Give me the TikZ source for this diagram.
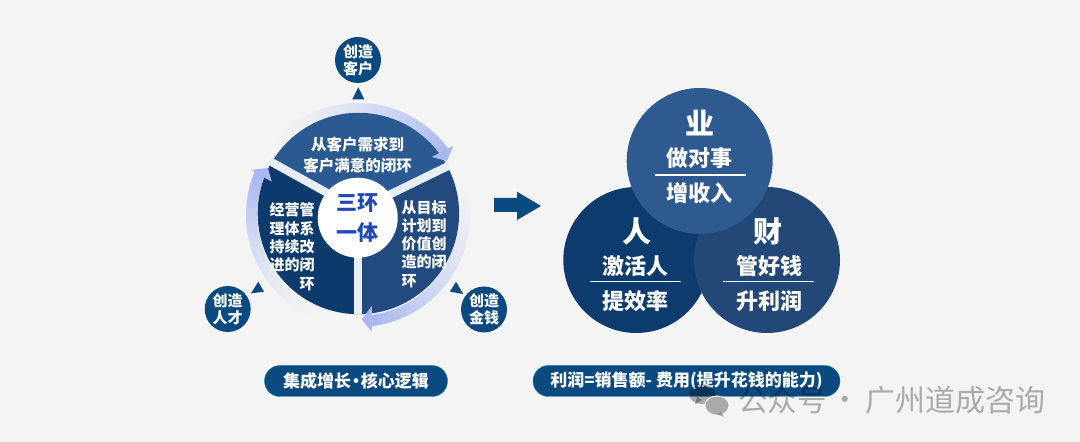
\documentclass[tikz,border=0pt]{standalone}
\usepackage{fontspec}
\setmainfont{Noto Sans CJK SC}
\definecolor{bgc}{HTML}{F4F4F4}
\definecolor{ringc}{HTML}{A9B9F0}
\definecolor{gapc}{HTML}{E9EDF5}
\definecolor{navy}{HTML}{0B4A80}
\definecolor{sectop}{HTML}{2B5A92}
\definecolor{secright}{HTML}{234A7E}
\definecolor{secleft}{HTML}{0C3A6C}
\definecolor{circtop}{HTML}{2F5A8F}
\definecolor{circleft}{HTML}{0D3B6E}
\definecolor{circright}{HTML}{234878}
\definecolor{corec}{HTML}{2047B8}
\tikzset{
  x=1pt,y=1pt,
  ftxt/.style={text=white,inner sep=0pt,align=center,font=\fontsize{#1}{#1}\selectfont\bfseries},
  pietxt/.style={text=white,inner sep=0pt,font=\fontsize{15}{18.3}\selectfont\bfseries},
  badge/.style={circle,fill=navy,minimum size=46pt,inner sep=0pt,text=white,align=center,font=\fontsize{15}{16.7}\selectfont\bfseries},
  bigc/.style={circle,minimum size=146pt,inner sep=0pt},
  pill/.style={rounded corners=15.5pt,fill=navy,draw=navy!70!cyan,line width=.4pt,minimum height=31pt,inner sep=0pt,text=white,font=\fontsize{17}{17}\selectfont\bfseries},
  rule/.style={white,line width=1.4pt},
  tri/.style={fill=navy},
  gap/.style={gapc,line width=8pt}
}
\newcommand{\ringarrow}[2]{%
  \foreach \i in {0,...,60}{%
    \pgfmathsetmacro{\p}{100*(\i/60)^1.6}
    \pgfmathsetmacro{\aa}{#1+(#2-#1)*\i/61}
    \pgfmathsetmacro{\ab}{#1+(#2-#1)*(\i+1.4)/61}
    \draw[line width=11pt,color=ringc!\p!bgc] (ringc) ++(\aa:106.5) arc[start angle=\aa,end angle=\ab,radius=106.5];
  }%
}
\begin{document}
\begin{tikzpicture}
\useasboundingbox (0,0) rectangle (1080,442);
\fill[bgc] (0,0) rectangle (1080,442);
% pie
\coordinate (pie) at (358.4,228.5);
\coordinate (O) at (358,232);
\coordinate (ringc) at (358,227);
% ring arrows
\ringarrow{145}{35}
\ringarrow{20}{-82}
\ringarrow{250}{158}
\begin{scope}
  \clip (O) -- ([shift={(26:220)}]O) -- ([shift={(151:220)}]O) -- cycle;
  \fill[sectop] (pie) circle[radius=100.7];
\end{scope}
\begin{scope}
  \clip (O) -- ([shift={(26:220)}]O) -- ([shift={(-90:220)}]O) -- cycle;
  \fill[secright] (pie) circle[radius=100.7];
\end{scope}
\begin{scope}
  \clip (O) -- ([shift={(151:220)}]O) -- ([shift={(-90:220)}]O) -- cycle;
  \fill[secleft] (pie) circle[radius=100.7];
\end{scope}
\draw[gap] (O) -- ([shift={(26:101)}]O);
\draw[gap] (O) -- ([shift={(151:101)}]O);
\draw[gap] (O) -- ([shift={(-90:104)}]O);
\fill[ringc] (453,296) -- (447,281) -- (431.7,285) -- cycle;
\fill[ringc] (372,136.3) -- (361.7,122.7) -- (371.7,110.3) -- cycle;
\fill[ringc] (251,272) -- (268,274) -- (271.7,260.3) -- cycle;
% centre
\node[circle,fill=white,minimum size=80pt,inner sep=0pt] (core) at (357.7,224.3) {};
\node[inner sep=0pt,text=corec,align=center,font=\fontsize{21}{30}\selectfont\bfseries] (coretxt) at (core.center) {三环\\一体};
\node[pietxt,align=center,font=\fontsize{15.5}{21}\selectfont\bfseries] (t1) at (357.7,286.5) {从客户需求到\\客户满意的闭环};
\node[pietxt,align=right] (t2) at (292,195.3) {经营管\\理体系\\持续改\\进的闭\\环};
\node[pietxt,align=left] (t3) at (424,198) {从目标\\计划到\\价值创\\造的闭\\环};
% badges
\node[badge] (b1) at (358,382) {创造\\客户};
\node[badge] (b2) at (227.7,133) {创造\\人才};
\node[badge] (b3) at (484,132.5) {创造\\金钱};
\fill[tri] (358.3,354.7) -- (352.3,342.7) -- (364.3,342.7) -- cycle;
\fill[tri] (258.3,160.3) -- (251,148.7) -- (264,150.3) -- cycle;
\fill[tri] (456,160.3) -- (450,150.3) -- (463.3,148) -- cycle;
% block arrow
\fill[navy] (494,244) -- (517,244) -- (517,250.3) -- (541,236) -- (517,222) -- (517,230) -- (494,230) -- cycle;
% big circles
\node[bigc,fill=circleft] (c2) at (636.3,182) {};
\node[bigc,fill=circright] (c3) at (767,182) {};
\node[bigc,fill=circtop] (c1) at (699.7,281) {};
\node[ftxt=29] (h1) at (699.7,319) {业};
\node[ftxt=22] (a1) at (699.7,284) {做对事};
\node[ftxt=22] (d1) at (699.7,249) {增收入};
\draw[rule] (655,267) -- (746,267);
\node[ftxt=29] (h2) at (636.7,210.3) {人};
\node[ftxt=22] (a2) at (635.7,176.3) {激活人};
\node[ftxt=22] (d2) at (635.7,141.3) {提效率};
\draw[rule] (590,160.3) -- (681,160.3);
\node[ftxt=29] (h3) at (768.3,210.3) {财};
\node[ftxt=22] (a3) at (769,176.3) {管好钱};
\node[ftxt=22] (d3) at (769,141.3) {升利润};
\draw[rule] (723.3,160.3) -- (814,160.3);
% pills
\node[pill,minimum width=183pt] (p1) at (356,61) {集成增长\hspace{-.22em}·\hspace{-.22em}核心逻辑};
\node[pill,minimum width=307pt] (p2) at (686.5,61) {利润=销售额- 费用(提升花钱的能力)};
% watermark
\begin{scope}[opacity=.3]
  \fill[black] (702,48) ellipse[x radius=13,y radius=10];
  \fill[black] (695,38) -- (697,45) -- (702,42) -- cycle;
\end{scope}
\fill[bgc] (717,36.5) ellipse[x radius=12.5,y radius=10];
\fill[black,opacity=.3] (717,36.5) ellipse[x radius=11.5,y radius=9];
\fill[black,opacity=.3] (722,29) -- (724,25) -- (716,28) -- cycle;
\node[anchor=west,inner sep=0pt,text=black,text opacity=.3,font=\fontsize{29.5}{30}\selectfont] (wm1) at (738,42) {公众号};
\node[inner sep=0pt,text=black,text opacity=.3,font=\fontsize{29.5}{30}\selectfont] (wm2) at (845,39) {·};
\node[anchor=west,inner sep=0pt,text=black,text opacity=.3,font=\fontsize{30}{30}\selectfont] (wm3) at (865,42) {广州道成咨询};
\end{tikzpicture}
\end{document}
